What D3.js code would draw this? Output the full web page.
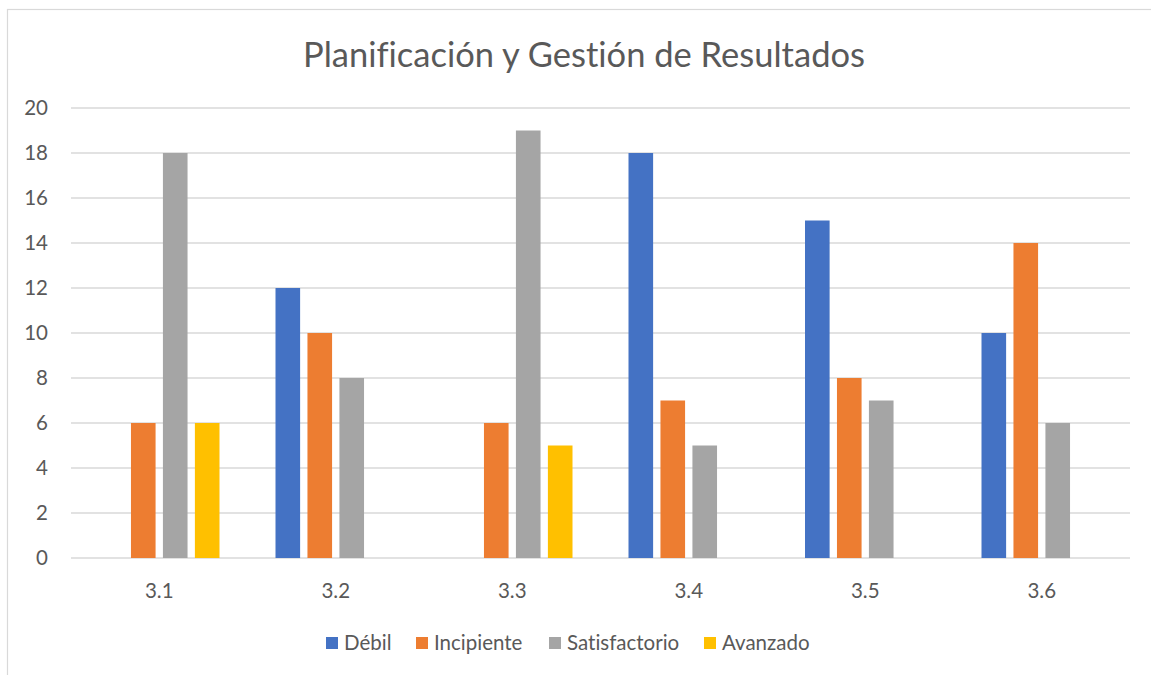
<!DOCTYPE html>
<html>
<head>
<meta charset="utf-8">
<script src="https://cdn.jsdelivr.net/npm/d3@7"></script>
<style>
  body { margin: 0; background: #fff; }
  svg { display: block; font-family: Lato, "Open Sans", sans-serif; font-variant-ligatures: none; }
</style>
</head>
<body>
<div id="chart"></div>
<script>
const categories = ["3.1", "3.2", "3.3", "3.4", "3.5", "3.6"];
const seriesNames = ["Débil", "Incipiente", "Satisfactorio", "Avanzado"];
const debil = [0, 12, 0, 18, 15, 10];
const incipiente = [6, 10, 6, 7, 8, 14];
const satisfactorio = [18, 8, 19, 5, 7, 6];
const avanzado = [6, 0, 5, 0, 0, 0];
const yTicks = [0, 2, 4, 6, 8, 10, 12, 14, 16, 18, 20];
const colors = ["#4472C4", "#ED7D31", "#A5A5A5", "#FFC000"];

const seriesValues = [debil, incipiente, satisfactorio, avanzado];
const width = 1151, height = 675;
const textColor = "#595959";

const svg = d3.select("#chart").append("svg")
  .attr("width", width)
  .attr("height", height);

// chart frame (runs off the right / bottom edge like the screenshot)
svg.append("rect")
  .attr("x", 7.5).attr("y", 9.5)
  .attr("width", width + 20).attr("height", height + 20)
  .attr("fill", "#fff")
  .attr("stroke", "#d9d9d9")
  .attr("stroke-width", 1.2);

const x0 = d3.scaleBand().domain(categories).range([71, 1130]).padding(0);
const x1 = d3.scaleBand().domain(seriesNames)
  .range([28, x0.bandwidth() - 28])
  .paddingInner(0.23).paddingOuter(0);
const y = d3.scaleLinear().domain([0, 20]).range([558, 108]);

// gridlines
svg.append("g")
  .selectAll("line")
  .data(yTicks)
  .join("line")
  .attr("x1", 71).attr("x2", 1130)
  .attr("y1", (d) => y(d)).attr("y2", (d) => y(d))
  .attr("stroke", "#d9d9d9")
  .attr("stroke-width", 1.4);

// y labels
svg.append("g")
  .selectAll("text")
  .data(yTicks)
  .join("text")
  .attr("x", 48)
  .attr("y", (d) => y(d))
  .attr("dy", "0.35em")
  .attr("text-anchor", "end")
  .attr("font-size", "20.5px")
  .attr("fill", textColor)
  .text((d) => d);

// bars
const groups = svg.append("g")
  .selectAll("g")
  .data(categories)
  .join("g")
  .attr("transform", (d) => `translate(${x0(d)},0)`);

groups.selectAll("rect")
  .data((d, i) => seriesNames.map((s, j) => ({ s, v: seriesValues[j][i], c: colors[j] })))
  .join("rect")
  .filter((d) => d.v > 0)
  .attr("x", (d) => x1(d.s))
  .attr("width", x1.bandwidth())
  .attr("y", (d) => y(d.v))
  .attr("height", (d) => y(0) - y(d.v))
  .attr("fill", (d) => d.c);

// category labels
svg.append("g")
  .selectAll("text")
  .data(categories)
  .join("text")
  .attr("x", (d) => x0(d) + x0.bandwidth() / 2)
  .attr("y", 591)
  .attr("text-anchor", "middle")
  .attr("dy", "0.35em")
  .attr("font-size", "20.5px")
  .attr("fill", textColor)
  .text((d) => d);

// title
svg.append("text")
  .attr("x", 584)
  .attr("y", 67)
  .attr("text-anchor", "middle")
  .attr("font-size", "34.5px")
  .attr("fill", textColor)
  .text("Planificación y Gestión de Resultados");

// legend
const legendX = [326, 416, 549, 704];
const legend = svg.append("g")
  .selectAll("g")
  .data(seriesNames)
  .join("g")
  .attr("transform", (d, i) => `translate(${legendX[i]},643)`);

legend.append("rect")
  .attr("x", 0).attr("y", -6)
  .attr("width", 12).attr("height", 12)
  .attr("fill", (d, i) => colors[i]);

legend.append("text")
  .attr("x", 18)
  .attr("dy", "0.35em")
  .attr("font-size", "20.5px")
  .attr("fill", textColor)
  .text((d) => d);
</script>
</body>
</html>
